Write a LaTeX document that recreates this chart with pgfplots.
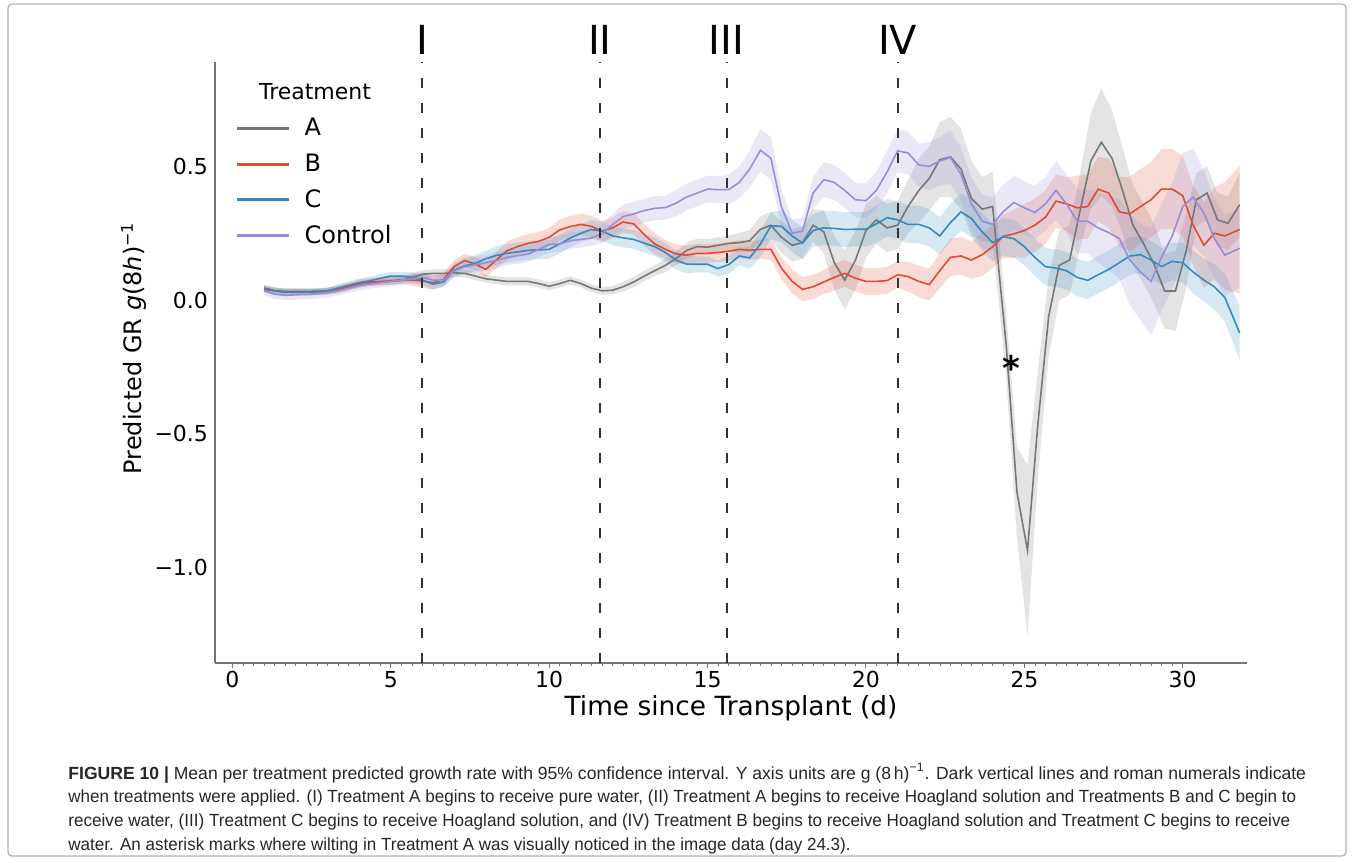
\documentclass[border=0pt]{standalone}
\usepackage{fontspec}
\setmainfont{DejaVu Sans}
\newfontfamily\capfont{Liberation Sans}
\usepackage{graphicx}
\usepackage{pgfplots}
\usepackage{pgfplotstable}
\pgfplotsset{compat=1.18}
\usepgfplotslibrary{fillbetween}
\definecolor{cA}{HTML}{777777}
\definecolor{cB}{HTML}{E24A33}
\definecolor{cC}{HTML}{348ABD}
\definecolor{cD}{HTML}{988ED5}

\pgfplotstableread{
x y e
1.0 0.045 0.012
1.33 0.035 0.012
1.67 0.033 0.012
2.0 0.033 0.012
2.5 0.033 0.012
3.0 0.035 0.012
3.33 0.04 0.012
3.67 0.05 0.012
4.0 0.058 0.012
4.33 0.065 0.012
4.67 0.068 0.012
5.0 0.07 0.012
5.33 0.073 0.012
5.67 0.085 0.015
6.0 0.097 0.015
6.33 0.1 0.015
6.67 0.1 0.015
7.0 0.102 0.015
7.33 0.1 0.015
7.67 0.09 0.015
8.0 0.08 0.015
8.33 0.075 0.015
8.67 0.07 0.015
9.0 0.07 0.015
9.33 0.07 0.015
9.67 0.062 0.015
10.0 0.052 0.015
10.33 0.062 0.015
10.67 0.074 0.015
11.0 0.062 0.015
11.33 0.045 0.015
11.67 0.035 0.015
12.0 0.037 0.015
12.33 0.05 0.018
12.67 0.068 0.02
13.0 0.09 0.02
13.33 0.11 0.02
13.67 0.13 0.025
14.0 0.155 0.025
14.33 0.185 0.03
14.67 0.2 0.03
15.0 0.198 0.03
15.33 0.205 0.03
15.67 0.212 0.03
16.0 0.215 0.035
16.33 0.222 0.04
16.67 0.265 0.05
17.0 0.28 0.05
17.33 0.235 0.06
17.67 0.205 0.06
18.0 0.215 0.06
18.33 0.28 0.06
18.67 0.255 0.08
19.0 0.14 0.1
19.33 0.075 0.11
19.67 0.15 0.11
20.0 0.26 0.1
20.33 0.3 0.09
20.67 0.27 0.09
21.0 0.28 0.09
21.33 0.35 0.1
21.67 0.41 0.12
22.0 0.455 0.12
22.33 0.525 0.14
22.67 0.535 0.15
23.0 0.49 0.15
23.33 0.38 0.14
23.67 0.34 0.12
24.0 0.35 0.13
24.43 -0.17 0.12
24.77 -0.72 0.17
25.1 -0.935 0.32
25.43 -0.46 0.2
25.77 -0.06 0.15
26.1 0.13 0.13
26.43 0.15 0.13
26.77 0.34 0.14
27.1 0.52 0.18
27.43 0.59 0.2
27.77 0.53 0.18
28.1 0.41 0.16
28.43 0.28 0.15
28.77 0.21 0.15
29.1 0.134 0.15
29.43 0.034 0.14
29.77 0.034 0.15
30.1 0.18 0.14
30.43 0.375 0.1
30.77 0.40 0.1
31.1 0.30 0.1
31.43 0.287 0.1
31.8 0.357 0.12
}\dataA

\pgfplotstableread{
x y e
1.0 0.045 0.012
1.33 0.035 0.012
1.67 0.03 0.012
2.0 0.03 0.012
2.5 0.03 0.012
3.0 0.032 0.012
3.33 0.04 0.015
3.67 0.05 0.015
4.0 0.062 0.015
4.33 0.068 0.015
4.67 0.07 0.015
5.0 0.072 0.015
5.33 0.077 0.015
5.67 0.075 0.02
6.0 0.072 0.025
6.33 0.065 0.025
6.67 0.078 0.025
7.0 0.125 0.025
7.33 0.148 0.025
7.67 0.135 0.025
8.0 0.115 0.03
8.33 0.15 0.03
8.67 0.185 0.035
9.0 0.2 0.035
9.33 0.212 0.035
9.67 0.22 0.035
10.0 0.235 0.035
10.33 0.262 0.04
10.67 0.275 0.04
11.0 0.283 0.04
11.33 0.276 0.04
11.67 0.257 0.04
12.0 0.27 0.04
12.33 0.292 0.04
12.67 0.285 0.04
13.0 0.245 0.04
13.33 0.21 0.04
13.67 0.19 0.035
14.0 0.173 0.035
14.33 0.168 0.035
14.67 0.175 0.035
15.0 0.175 0.035
15.33 0.178 0.035
15.67 0.183 0.035
16.0 0.19 0.035
16.33 0.186 0.035
16.67 0.19 0.035
17.0 0.19 0.04
17.33 0.12 0.04
17.67 0.07 0.045
18.0 0.04 0.045
18.33 0.05 0.045
18.67 0.068 0.045
19.0 0.085 0.05
19.33 0.1 0.05
19.67 0.082 0.05
20.0 0.07 0.05
20.33 0.07 0.05
20.67 0.073 0.05
21.0 0.095 0.05
21.33 0.088 0.055
21.67 0.07 0.06
22.0 0.058 0.06
22.33 0.11 0.065
22.67 0.16 0.07
23.0 0.165 0.07
23.33 0.15 0.07
23.67 0.17 0.08
24.0 0.2 0.08
24.33 0.238 0.08
24.67 0.248 0.09
25.0 0.26 0.1
25.33 0.28 0.1
25.67 0.31 0.1
26.0 0.37 0.1
26.33 0.36 0.1
26.67 0.345 0.12
27.0 0.35 0.12
27.33 0.415 0.12
27.67 0.40 0.13
28.0 0.33 0.13
28.33 0.322 0.14
28.67 0.35 0.14
29.0 0.375 0.14
29.33 0.415 0.15
29.67 0.415 0.15
30.0 0.39 0.15
30.33 0.28 0.15
30.67 0.205 0.16
31.0 0.25 0.17
31.33 0.24 0.2
31.8 0.264 0.24
}\dataB

\pgfplotstableread{
x y e
1.0 0.04 0.012
1.33 0.035 0.012
1.67 0.03 0.012
2.0 0.03 0.012
2.5 0.03 0.012
3.0 0.035 0.012
3.33 0.045 0.015
3.67 0.055 0.015
4.0 0.065 0.015
4.33 0.072 0.015
4.67 0.082 0.015
5.0 0.09 0.015
5.33 0.09 0.015
5.67 0.085 0.02
6.0 0.075 0.02
6.33 0.06 0.02
6.67 0.068 0.02
7.0 0.113 0.025
7.33 0.128 0.03
7.67 0.138 0.03
8.0 0.155 0.03
8.33 0.167 0.035
8.67 0.175 0.035
9.0 0.18 0.035
9.33 0.186 0.035
9.67 0.188 0.035
10.0 0.19 0.035
10.33 0.21 0.035
10.67 0.232 0.035
11.0 0.25 0.035
11.33 0.264 0.035
11.67 0.258 0.035
12.0 0.24 0.035
12.33 0.233 0.035
12.67 0.227 0.035
13.0 0.213 0.035
13.33 0.2 0.035
13.67 0.178 0.035
14.0 0.15 0.035
14.33 0.135 0.035
14.67 0.134 0.03
15.0 0.134 0.03
15.33 0.118 0.03
15.67 0.133 0.035
16.0 0.165 0.035
16.33 0.158 0.04
16.67 0.21 0.05
17.0 0.278 0.05
17.33 0.276 0.06
17.67 0.24 0.06
18.0 0.213 0.06
18.33 0.26 0.06
18.67 0.27 0.065
19.0 0.268 0.065
19.33 0.264 0.065
19.67 0.265 0.065
20.0 0.265 0.065
20.33 0.285 0.07
20.67 0.308 0.07
21.0 0.3 0.07
21.33 0.283 0.07
21.67 0.283 0.07
22.0 0.27 0.07
22.33 0.24 0.07
22.67 0.29 0.07
23.0 0.33 0.07
23.33 0.305 0.07
23.67 0.255 0.07
24.0 0.215 0.07
24.33 0.237 0.07
24.67 0.23 0.07
25.0 0.2 0.07
25.33 0.16 0.07
25.67 0.125 0.07
26.0 0.12 0.07
26.33 0.11 0.07
26.67 0.085 0.07
27.0 0.074 0.07
27.33 0.095 0.07
27.67 0.115 0.07
28.0 0.14 0.07
28.33 0.165 0.07
28.67 0.17 0.07
29.0 0.15 0.07
29.33 0.125 0.07
29.67 0.145 0.07
30.0 0.14 0.075
30.33 0.105 0.08
30.67 0.075 0.08
31.0 0.05 0.085
31.33 0.01 0.09
31.8 -0.123 0.1
}\dataC

\pgfplotstableread{
x y e
1.0 0.035 0.015
1.33 0.022 0.018
1.67 0.018 0.018
2.0 0.02 0.018
2.5 0.022 0.018
3.0 0.028 0.018
3.33 0.035 0.018
3.67 0.045 0.018
4.0 0.055 0.018
4.33 0.06 0.018
4.67 0.065 0.018
5.0 0.07 0.018
5.33 0.075 0.018
5.67 0.08 0.02
6.0 0.085 0.02
6.33 0.075 0.02
6.67 0.075 0.02
7.0 0.11 0.025
7.33 0.125 0.025
7.67 0.132 0.03
8.0 0.14 0.03
8.33 0.148 0.03
8.67 0.16 0.03
9.0 0.166 0.03
9.33 0.172 0.03
9.67 0.19 0.03
10.0 0.208 0.03
10.33 0.21 0.03
10.67 0.222 0.03
11.0 0.227 0.03
11.33 0.232 0.03
11.67 0.248 0.035
12.0 0.282 0.04
12.33 0.312 0.045
12.67 0.322 0.045
13.0 0.335 0.045
13.33 0.343 0.045
13.67 0.346 0.045
14.0 0.362 0.05
14.33 0.385 0.05
14.67 0.4 0.05
15.0 0.415 0.05
15.33 0.413 0.05
15.67 0.413 0.055
16.0 0.44 0.06
16.33 0.49 0.07
16.67 0.56 0.08
17.0 0.53 0.08
17.33 0.35 0.07
17.67 0.25 0.05
18.0 0.258 0.05
18.33 0.4 0.06
18.67 0.45 0.065
19.0 0.44 0.065
19.33 0.41 0.065
19.67 0.375 0.065
20.0 0.372 0.065
20.33 0.41 0.07
20.67 0.48 0.08
21.0 0.558 0.08
21.33 0.55 0.08
21.67 0.505 0.08
22.0 0.5 0.09
22.33 0.52 0.09
22.67 0.533 0.1
23.0 0.47 0.1
23.33 0.36 0.1
23.67 0.295 0.1
24.0 0.283 0.1
24.33 0.33 0.1
24.67 0.365 0.1
25.0 0.345 0.1
25.33 0.328 0.1
25.67 0.36 0.1
26.0 0.41 0.11
26.33 0.36 0.11
26.67 0.295 0.12
27.0 0.295 0.12
27.33 0.27 0.13
27.67 0.252 0.14
28.0 0.23 0.15
28.33 0.15 0.17
28.67 0.105 0.18
29.0 0.07 0.2
29.33 0.16 0.2
29.67 0.24 0.2
30.0 0.35 0.2
30.33 0.385 0.18
30.67 0.325 0.16
31.0 0.23 0.15
31.33 0.168 0.15
31.8 0.194 0.15
}\dataD

\begin{document}
\begin{tikzpicture}
\draw[black!30, line width=0.6pt, rounded corners=2pt] (4pt,-2pt) rectangle (673pt,-428pt);
\begin{axis}[
  at={(107.5pt,-331.5pt)}, anchor=south west,
  scale only axis, width=516pt, height=300.5pt,
  xmin=-0.55, xmax=32.03, ymin=-1.356, ymax=0.89,
  axis x line*=bottom, axis y line*=left,
  x axis line style={-}, y axis line style={-},
  axis line style={black!55, line width=0.6pt},
  clip=false,
  xtick={0,5,10,15,20,25,30},
  xticklabels={0,5,10,15,20,25,30},
  minor x tick num=14,
  xtick align=outside,
  major tick length=2.5pt,
  minor tick length=1.3pt,
  x tick style={black!55, line width=0.5pt},
  minor x tick style={line width=0.3pt},
  ytick={-1,-0.5,0,0.5},
  yticklabels={−1.0,−0.5,0.0,0.5},
  y tick style={draw=none},
  tick label style={font=\fontsize{11}{13}\selectfont, text=black},
  xticklabel style={yshift=2pt},
  yticklabel style={xshift=0pt},
  xlabel={Time since Transplant (d)},
  xlabel style={font=\fontsize{13.2}{16}\selectfont, at={(rel axis cs:0.5,0)}, anchor=center, yshift=-22.5pt},
  ylabel={Predicted GR \textit{g}(8\textit{h})\textsuperscript{−1}},
  ylabel style={font=\fontsize{12}{14}\selectfont, at={(rel axis cs:-0.0785,0.524)}, anchor=center},
  legend style={at={(rel axis cs:0.014,0.92)}, anchor=north west, draw=none, fill=none,
    font=\fontsize{12}{14}\selectfont, row sep=3.5pt,
    /tikz/every odd column/.append style={column sep=5pt}},
  legend cell align=left,
  legend image code/.code={\draw[#1, line width=1.4pt] (0pt,0pt) -- (26pt,0pt);},
]
% confidence bands
\addplot[draw=none, name path=Au, forget plot] table[x=x, y expr=\thisrow{y}+\thisrow{e}] {\dataA};
\addplot[draw=none, name path=Al, forget plot] table[x=x, y expr=\thisrow{y}-\thisrow{e}] {\dataA};
\addplot[fill=cA, fill opacity=0.2, draw=none, forget plot] fill between[of=Au and Al];
\addplot[draw=none, name path=Bu, forget plot] table[x=x, y expr=\thisrow{y}+\thisrow{e}] {\dataB};
\addplot[draw=none, name path=Bl, forget plot] table[x=x, y expr=\thisrow{y}-\thisrow{e}] {\dataB};
\addplot[fill=cB, fill opacity=0.2, draw=none, forget plot] fill between[of=Bu and Bl];
\addplot[draw=none, name path=Cu, forget plot] table[x=x, y expr=\thisrow{y}+\thisrow{e}] {\dataC};
\addplot[draw=none, name path=Cl, forget plot] table[x=x, y expr=\thisrow{y}-\thisrow{e}] {\dataC};
\addplot[fill=cC, fill opacity=0.2, draw=none, forget plot] fill between[of=Cu and Cl];
\addplot[draw=none, name path=Du, forget plot] table[x=x, y expr=\thisrow{y}+\thisrow{e}] {\dataD};
\addplot[draw=none, name path=Dl, forget plot] table[x=x, y expr=\thisrow{y}-\thisrow{e}] {\dataD};
\addplot[fill=cD, fill opacity=0.2, draw=none, forget plot] fill between[of=Du and Dl];
% mean lines
\addplot[cA, line width=0.8pt] table[x=x, y=y] {\dataA};
\addlegendentry{A}
\addplot[cB, line width=0.8pt] table[x=x, y=y] {\dataB};
\addlegendentry{B}
\addplot[cC, line width=0.8pt] table[x=x, y=y] {\dataC};
\addlegendentry{C}
\addplot[cD, line width=0.8pt] table[x=x, y=y] {\dataD};
\addlegendentry{Control}
% treatment lines
\addplot[black!80, line width=1pt, dash pattern=on 5pt off 7.5pt, forget plot] coordinates {(6,-1.356) (6,0.89)};
\addplot[black!80, line width=1pt, dash pattern=on 5pt off 7.5pt, forget plot] coordinates {(11.6,-1.356) (11.6,0.89)};
\addplot[black!80, line width=1pt, dash pattern=on 5pt off 7.5pt, forget plot] coordinates {(15.6,-1.356) (15.6,0.89)};
\addplot[black!80, line width=1pt, dash pattern=on 5pt off 7.5pt, forget plot] coordinates {(21.0,-1.356) (21.0,0.89)};
\node[font=\fontsize{20}{24}\selectfont] at (axis cs:6,0.972) {I};
\node[font=\fontsize{20}{24}\selectfont] at (axis cs:11.6,0.972) {II};
\node[font=\fontsize{20}{24}\selectfont] at (axis cs:15.6,0.972) {III};
\node[font=\fontsize{20}{24}\selectfont] at (axis cs:21.0,0.972) {IV};
\node[font=\fontsize{17}{20}\selectfont\bfseries, yshift=-2.5pt] at (axis cs:24.59,-0.235) {*};
\node[font=\fontsize{11}{13}\selectfont] at (rel axis cs:0.0969,0.950) {Treatment};
\end{axis}
\begin{scope}[every node/.style={anchor=west, inner sep=0pt, font=\capfont\fontsize{8.8}{10}\selectfont, text=black!85}]
\node at (34pt,-386.5pt) {\scalebox{0.998}[1]{\textbf{FIGURE 10 |} Mean per treatment predicted growth rate with 95\% confidence interval. Y axis units are g (8\,h)\textsuperscript{−1}. Dark vertical lines and roman numerals indicate}};
\node at (34pt,-399pt) {\scalebox{0.968}[1]{when treatments were applied. (I) Treatment A begins to receive pure water, (II) Treatment A begins to receive Hoagland solution and Treatments B and C begin to}};
\node at (34pt,-410.8pt) {\scalebox{0.972}[1]{receive water, (III) Treatment C begins to receive Hoagland solution, and (IV) Treatment B begins to receive Hoagland solution and Treatment C begins to receive}};
\node at (34pt,-422.8pt) {\scalebox{0.967}[1]{water. An asterisk marks where wilting in Treatment A was visually noticed in the image data (day 24.3).}};
\end{scope}
\pgfresetboundingbox
\path[use as bounding box] (0pt,0pt) rectangle (677.5pt,-430pt);
\end{tikzpicture}
\end{document}
